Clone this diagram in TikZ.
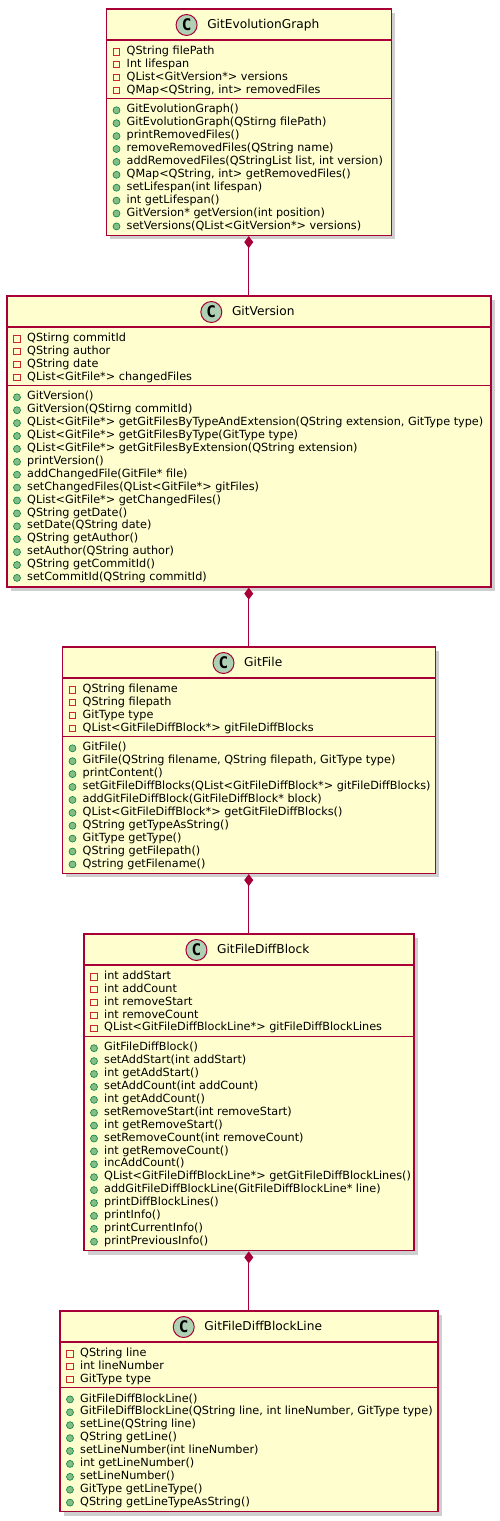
\documentclass[tikz,border=0pt]{standalone}
\usepackage{fontspec}
\setmainfont{DejaVu Sans}
\newfontfamily\markfont{DejaVu Sans Mono}
\usetikzlibrary{arrows.meta,positioning,shadows}

\definecolor{umlfill}{HTML}{FEFECE}
\definecolor{umlred}{HTML}{A80036}
\definecolor{markfill}{HTML}{ADD1B2}
\definecolor{privred}{HTML}{C82930}
\definecolor{pubfill}{HTML}{84BE84}
\definecolor{publine}{HTML}{038048}

% class box: name, left, top, width, title, fields, methods
\newcommand{\umlclass}[7]{
  \foreach \f [count=\n] in {#6} {\xdef\nfields{\n}}
  \foreach \f [count=\n] in {#7} {\xdef\nmethods{\n}}
  \pgfmathsetmacro\hfields{\nfields*12.9+7}
  \pgfmathsetmacro\hall{32+\hfields+\nmethods*12.9+7}
  \node[classbox,minimum width=#4,minimum height=\hall] (#1) at (#2,#3) {};
  \draw[classline] ([yshift=-32pt]#1.north west) -- ([yshift=-32pt]#1.north east);
  \draw[classline] ([yshift=-32pt-\hfields pt]#1.north west) -- ([yshift=-32pt-\hfields pt]#1.north east);
  \node[classname] (#1-name) at (#2+#4/2+15.25,#3+20.5) {#5};
  \node[classmark,left=9.5pt of #1-name] (#1-mark) {C};
  \foreach \f [count=\i] in {#6} {
    \node[privmark] (#1-fm\i) at (#2+11,#3+32+11.7+\i*12.9-12.9) {};
    \node[member] (#1-f\i) at (#2+21,#3+32+14.3+\i*12.9-12.9) {\f};
  }
  \foreach \f [count=\i] in {#7} {
    \node[pubmark] (#1-mm\i) at (#2+11,#3+32+\hfields+11.7+\i*12.9-12.9) {};
    \node[member] (#1-m\i) at (#2+21,#3+32+\hfields+14.3+\i*12.9-12.9) {\f};
  }
}

\begin{document}
\begin{tikzpicture}[x=1pt,y=-1pt]
  \tikzstyle{classbox}=[rectangle,draw=umlred,fill=umlfill,line width=1.5pt,anchor=north west,inner sep=0,
    drop shadow={shadow xshift=4pt,shadow yshift=-4pt,opacity=0.35,fill=black!55}]
  \tikzstyle{classline}=[draw=umlred,line width=1.4pt]
  \tikzstyle{classname}=[anchor=base,inner sep=0,text height=9pt,text depth=2pt,font=\fontsize{12.2}{14}\selectfont]
  \tikzstyle{classmark}=[circle,draw=umlred,fill=markfill,line width=1pt,minimum size=21pt,inner sep=0,
    font=\markfont\bfseries\fontsize{16}{16}\selectfont]
  \tikzstyle{member}=[anchor=base west,inner sep=0,font=\fontsize{11.25}{13}\selectfont]
  \tikzstyle{privmark}=[rectangle,draw=privred,line width=0.8pt,minimum size=6.5pt,inner sep=0]
  \tikzstyle{pubmark}=[circle,draw=publine,fill=pubfill,line width=0.6pt,minimum size=7pt,inner sep=0]
  \tikzstyle{composition}=[draw=umlred,line width=1pt,{Diamond[length=12pt,width=9pt]}-]
  \useasboundingbox (0,0) rectangle (500,1521);

  \umlclass{graph}{105.5}{8}{285}{GitEvolutionGraph}{
    QString filePath,
    Int lifespan,
    QList<GitVersion*> versions,
    {QMap<QString, int> removedFiles}}{
    GitEvolutionGraph(),
    GitEvolutionGraph(QStirng filePath),
    printRemovedFiles(),
    removeRemovedFiles(QString name),
    {addRemovedFiles(QStringList list, int version)},
    {QMap<QString, int> getRemovedFiles()},
    setLifespan(int lifespan),
    int getLifespan(),
    GitVersion* getVersion(int position),
    setVersions(QList<GitVersion*> versions)}

  \umlclass{version}{6}{295}{484}{GitVersion}{
    QStirng commitId,
    QString author,
    QString date,
    QList<GitFile*> changedFiles}{
    GitVersion(),
    GitVersion(QStirng commitId),
    {QList<GitFile*> getGitFilesByTypeAndExtension(QString extension, GitType type)},
    QList<GitFile*> getGitFilesByType(GitType type),
    QList<GitFile*> getGitFilesByExtension(QString extension),
    printVersion(),
    addChangedFile(GitFile* file),
    setChangedFiles(QList<GitFile*> gitFiles),
    QList<GitFile*> getChangedFiles(),
    QString getDate(),
    setDate(QString date),
    QString getAuthor(),
    setAuthor(QString author),
    QString getCommitId(),
    setCommitId(QString commitId)}

  \umlclass{file}{61.5}{646}{373}{GitFile}{
    QString filename,
    QString filepath,
    GitType type,
    QList<GitFileDiffBlock*> gitFileDiffBlocks}{
    GitFile(),
    {GitFile(QString filename, QString filepath, GitType type)},
    printContent(),
    setGitFileDiffBlocks(QList<GitFileDiffBlock*> gitFileDiffBlocks),
    addGitFileDiffBlock(GitFileDiffBlock* block),
    QList<GitFileDiffBlock*> getGitFileDiffBlocks(),
    QString getTypeAsString(),
    GitType getType(),
    QString getFilepath(),
    Qstring getFilename()}

  \umlclass{block}{83}{933}{330}{GitFileDiffBlock}{
    int addStart,
    int addCount,
    int removeStart,
    int removeCount,
    QList<GitFileDiffBlockLine*> gitFileDiffBlockLines}{
    GitFileDiffBlock(),
    setAddStart(int addStart),
    int getAddStart(),
    setAddCount(int addCount),
    int getAddCount(),
    setRemoveStart(int removeStart),
    int getRemoveStart(),
    setRemoveCount(int removeCount),
    int getRemoveCount(),
    incAddCount(),
    QList<GitFileDiffBlockLine*> getGitFileDiffBlockLines(),
    addGitFileDiffBlockLine(GitFileDiffBlockLine* line),
    printDiffBlockLines(),
    printInfo(),
    printCurrentInfo(),
    printPreviousInfo()}

  \umlclass{blockline}{59}{1310}{378}{GitFileDiffBlockLine}{
    QString line,
    int lineNumber,
    GitType type}{
    GitFileDiffBlockLine(),
    {GitFileDiffBlockLine(QString line, int lineNumber, GitType type)},
    setLine(QString line),
    QString getLine(),
    setLineNumber(int lineNumber),
    int getLineNumber(),
    setLineNumber(),
    GitType getLineType(),
    QString getLineTypeAsString()}

  \draw[composition] (graph) -- (version);
  \draw[composition] (version) -- (file);
  \draw[composition] (file) -- (block);
  \draw[composition] (block) -- (blockline);
\end{tikzpicture}
\end{document}
